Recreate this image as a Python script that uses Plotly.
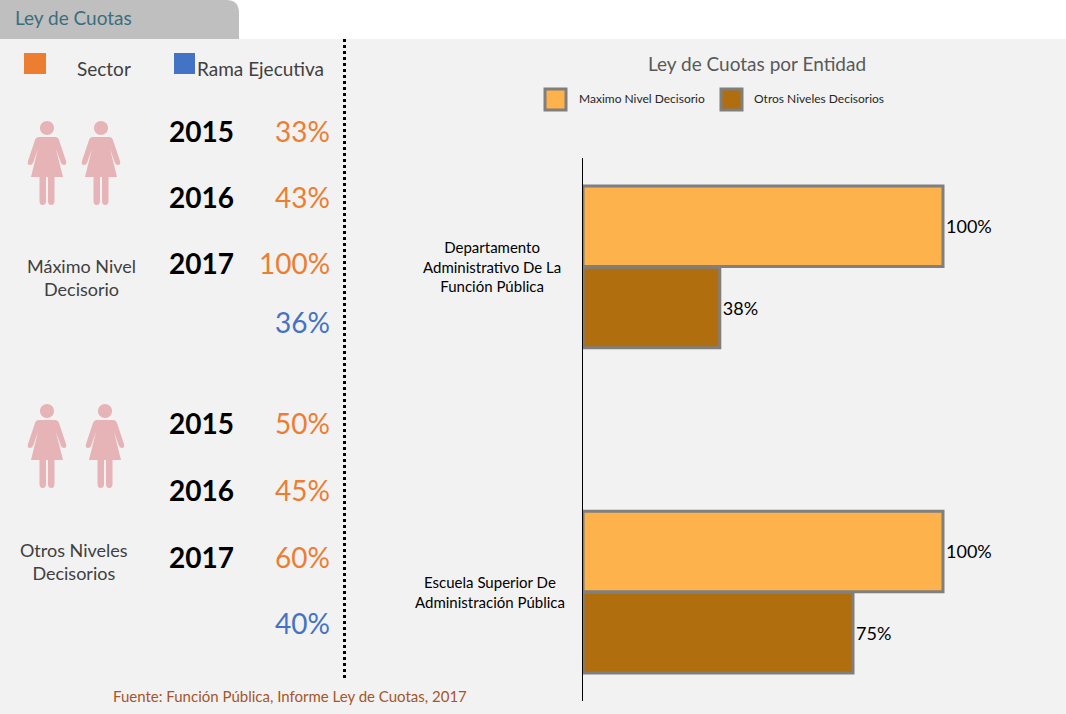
import plotly.graph_objects as go

W, H = 1066, 714
FONT = "Lato"

# ---- data ----
entities = ["Departamento<br>Administrativo De La<br>Función Pública",
            "Escuela Superior De<br>Administración Pública"]
entity_shift = [-20, -16]
max_nivel = [100, 100]
otros_niveles = [38, 75]
series_names = ["Maximo Nivel Decisorio", "Otros Niveles Decisorios"]

years = ["2015", "2016", "2017"]
sector_max = ["33%", "43%", "100%"]
sector_otros = ["50%", "45%", "60%"]
rama_max = "36%"
rama_otros = "40%"

ORANGE = "#ed7d31"
BLUE = "#4472c4"
BAR1 = "#fdb24c"
BAR2 = "#b06e0e"
EDGE = "#7f7f7f"
PINK = "#e6b3b7"
BG = "#f2f2f2"


def px(x):
    return x / W


def py(y):
    return 1 - y / H


def T(x, y, text, size, color, anchor="left", bold=False, align=None):
    return dict(xref="paper", yref="paper", x=px(x), y=py(y), text=f"<b>{text}</b>" if bold else text,
                showarrow=False, xanchor=anchor, yanchor="middle", align=align or anchor,
                font=dict(family=FONT, size=size, color=color))


def rect(x0, y0, x1, y1, fill, line=None, lw=0):
    return dict(type="rect", xref="paper", yref="paper", x0=px(x0), x1=px(x1), y0=py(y0), y1=py(y1),
                fillcolor=fill, line=dict(color=line or fill, width=lw), layer="below")


def woman(cx, top):
    def P(x, y):
        return f"{px(cx + x):.5f},{py(top + y):.5f}"
    out = []
    # head
    r, hy = 7, 6
    k = 0.552 * r
    head = (f"M{P(-r, hy)} C{P(-r, hy - k)} {P(-k, hy - r)} {P(0, hy - r)} "
            f"C{P(k, hy - r)} {P(r, hy - k)} {P(r, hy)} C{P(r, hy + k)} {P(k, hy + r)} {P(0, hy + r)} "
            f"C{P(-k, hy + r)} {P(-r, hy + k)} {P(-r, hy)} Z")
    out.append(head)
    body = (f"M{P(-8, 15)} L{P(8, 15)} Q{P(11, 15)} {P(12, 18)} L{P(19, 39)} Q{P(20, 43)} {P(17, 43)} "
            f"Q{P(15, 43)} {P(14, 41)} L{P(9, 27)} L{P(16, 55)} L{P(-16, 55)} L{P(-9, 27)} L{P(-14, 41)} "
            f"Q{P(-15, 43)} {P(-17, 43)} Q{P(-20, 43)} {P(-19, 39)} L{P(-12, 18)} Q{P(-11, 15)} {P(-8, 15)} Z")
    out.append(body)
    for a, b in ((-7.5, -1), (1, 7.5)):
        m = (a + b) / 2
        out.append(f"M{P(a, 54)} L{P(b, 54)} L{P(b, 79)} Q{P(b, 83)} {P(m, 83)} Q{P(a, 83)} {P(a, 79)} Z")
    return [dict(type="path", xref="paper", yref="paper", path=p, fillcolor=PINK,
                 line=dict(width=0), layer="above") for p in out]


fig = go.Figure()
fig.add_bar(y=[0, 1], x=max_nivel, name=series_names[0], orientation="h",
            marker=dict(color=BAR1, line=dict(color=EDGE, width=3)),
            text=[f"{v}%" for v in max_nivel], textposition="outside", cliponaxis=False,
            textfont=dict(family=FONT, size=18, color="#000000"))
fig.add_bar(y=[0, 1], x=otros_niveles, name=series_names[1], orientation="h",
            marker=dict(color=BAR2, line=dict(color=EDGE, width=3)),
            text=[f"{v}%" for v in otros_niveles], textposition="outside", cliponaxis=False,
            textfont=dict(family=FONT, size=18, color="#000000"))

shapes = [
    rect(0, 39, W, H, BG),
    dict(type="path", xref="paper", yref="paper", layer="below", fillcolor="#bfbfbf", line=dict(width=0),
         path=f"M{px(0)},{py(39)} L{px(0)},{py(0)} L{px(226)},{py(0)} Q{px(239)},{py(0)} {px(239)},{py(13)} L{px(239)},{py(39)} Z"),
    dict(type="line", xref="paper", yref="paper", x0=px(344.5), x1=px(344.5), y0=py(39), y1=py(678),
         line=dict(color="#000000", width=3, dash="3px,3px")),
    rect(24, 53, 46, 74, ORANGE),
    rect(174, 53, 195, 74, BLUE),
    rect(545, 89, 566, 110, BAR1, EDGE, 3),
    rect(721, 89, 742, 110, BAR2, EDGE, 3),
]
for cx, top in ((47, 122), (101, 122), (47, 405), (105, 405)):
    shapes += woman(cx, top)

ann = [
    T(13, 17, "Ley de Cuotas", 19, "#3b6e7c"),
    T(75, 68, "Sector", 19, "#404040"),
    T(195, 68, "Rama Ejecutiva", 19, "#404040"),
    T(81, 278, "Máximo Nivel<br>Decisorio", 18, "#404040", anchor="center"),
    T(74, 561, "Otros Niveles<br>Decisorios", 18, "#404040", anchor="center"),
    T(757, 63, "Ley de Cuotas por Entidad", 19, "#595959", anchor="center"),
    T(577, 99, series_names[0], 12, "#262626"),
    T(752, 99, series_names[1], 12, "#262626"),
    T(111, 696, "Fuente: Función Pública, Informe Ley de Cuotas, 2017", 15, "#a5562a"),
    T(332, 322, rama_max, 28, BLUE, anchor="right"),
    T(332, 623, rama_otros, 28, BLUE, anchor="right"),
]
for ys, vals in (((131, 197, 263), sector_max), ((423, 490, 557), sector_otros)):
    for y, yr, v in zip(ys, years, vals):
        ann.append(T(201, y, yr, 28, "#000000", anchor="center", bold=True))
        ann.append(T(332, y, v, 28, ORANGE, anchor="right"))
for i, (name, sh) in enumerate(zip(entities, entity_shift)):
    ann.append(dict(xref="x", yref="y", x=0, y=i, text=name, showarrow=False, xanchor="right",
                    xshift=sh, align="center", yanchor="middle",
                    font=dict(family=FONT, size=15, color="#000000")))

fig.update_layout(
    width=W, height=H, autosize=False, margin=dict(l=0, r=0, t=0, b=0),
    paper_bgcolor="#ffffff", plot_bgcolor="rgba(0,0,0,0)", showlegend=False,
    barmode="group", bargap=0.5, bargroupgap=0.01,
    shapes=shapes, annotations=ann,
    xaxis=dict(domain=[583 / W, 1015 / W], range=[0, 120], visible=False, fixedrange=True),
    yaxis=dict(domain=[py(701), py(158)], range=[1.335, -0.335], tickvals=[0, 1], showticklabels=False,
               ticks="", showgrid=False, zeroline=False, showline=True, linecolor="#000000", linewidth=1,
               fixedrange=True, anchor="x"),
)
fig.write_html("out.html", config={"displayModeBar": False},
               post_script="document.body.style.margin='0';document.body.style.overflow='hidden';")
